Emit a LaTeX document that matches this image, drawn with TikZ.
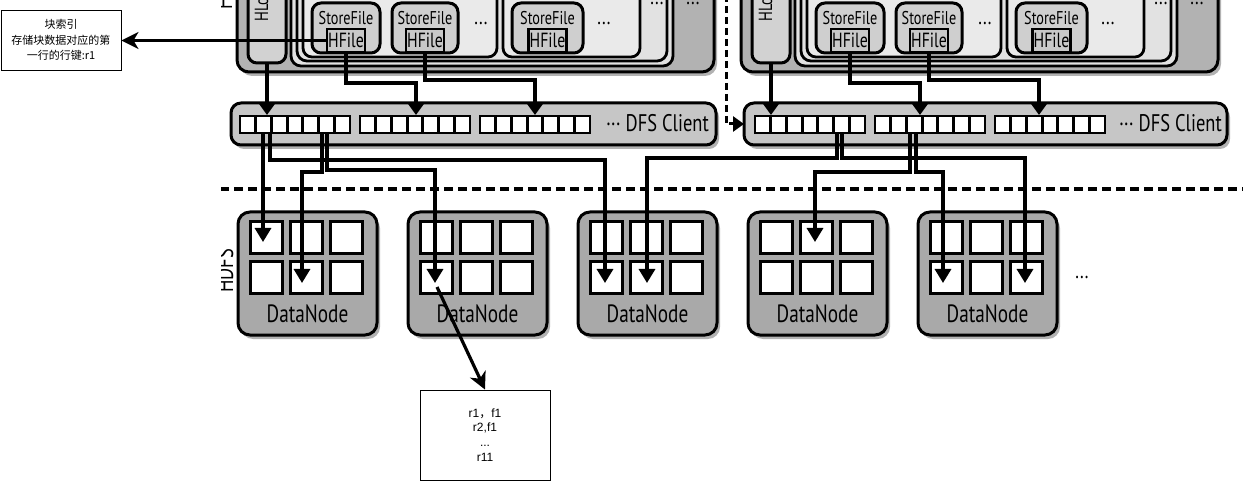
\documentclass[tikz,border=0pt]{standalone}
\usepackage{fontspec}
\newfontfamily\cf{PT Sans}[FakeStretch=0.77]
\newfontfamily\cjk{Noto Sans CJK SC}
\newfontfamily\arialf{Liberation Sans}
\usetikzlibrary{arrows.meta,shadows,calc}
\definecolor{rsg}{HTML}{B2B2B2}
\definecolor{lg}{HTML}{E2E2E2}
\definecolor{sg}{HTML}{EAEAEA}
\definecolor{sfg}{HTML}{CFCFCF}
\definecolor{hfg}{HTML}{C9C9C9}
\definecolor{dfsg}{HTML}{C6C6C6}
\definecolor{dng}{HTML}{A9A9A9}
\definecolor{hlg}{HTML}{D2D2D2}
\newcommand\mybox[7]{\node[#1,minimum width={(#5)-(#3)},minimum height={(#6)-(#4)}] (#2) at ({((#3)+(#5))/2},{((#4)+(#6))/2}) {#7};}
\tikzset{
  base/.style={draw=black, line width=3pt, inner sep=0pt, outer sep=0pt},
  shad/.style={drop shadow={shadow xshift=3pt, shadow yshift=-4pt, opacity=0.3, fill=black}},
  rsbox/.style={base, rounded corners=12pt, fill=rsg, shad},
  regbox/.style={base, line width=2.8pt, rounded corners=10pt, fill=lg},
  storebox/.style={base, line width=2.8pt, rounded corners=9pt, fill=sg},
  hlogbox/.style={base, rounded corners=9pt, fill=hlg},
  sfbox/.style={base, rounded corners=9pt, fill=sfg},
  hfbox/.style={base, line width=2.4pt, fill=hfg, font=\cf\fontsize{20.5}{20.5}\selectfont},
  dfsbox/.style={base, rounded corners=10pt, fill=dfsg, shad},
  cellbox/.style={base, line width=2.8pt, fill=white, minimum width=15.714pt, minimum height=17pt},
  dnbox/.style={base, rounded corners=12pt, fill=dng, shad},
  sq/.style={base, fill=white, minimum width=32pt, minimum height=32pt},
  conn/.style={line width=3.2pt, draw=black},
  tipdn/.style={-{Triangle[length=14pt,width=16pt]}},
  tipdfs/.style={-{Triangle[length=11pt,width=15pt]}},
  lbl/.style={font=\cf\fontsize{24}{24}\selectfont, inner sep=0pt},
  sflbl/.style={font=\cf\fontsize{18.5}{18.5}\selectfont, inner sep=0pt},
  dotlbl/.style={font=\cf\fontsize{22}{22}\selectfont, inner sep=0pt},
  note/.style={draw=black, line width=0.9pt, fill=white, inner sep=0pt},
  bigarrow/.style={line width=3.2pt, -{Stealth[length=17pt,width=17pt,inset=5pt]}},
}
\begin{document}
\begin{tikzpicture}[x=1pt,y=-1pt]
\useasboundingbox (0,0) rectangle (1243,481);
\fill[white] (0,0) rectangle (1243,481);
\begin{scope}
\clip (221,0) rectangle (1243,481);
\node[lbl, rotate=90, anchor=base west] (hrslbl) at (232,10) {HRegionServer};
\node[lbl, rotate=90, anchor=base] (hdfslbl) at (233,271) {HDFS};
\foreach \o/\s in {0/L,504/R}{
  \mybox{rsbox}{hrs\s}{237+\o}{-40}{714+\o}{72}{}
  \mybox{hlogbox}{hlog\s}{248+\o}{-30}{286+\o}{63}{}
  \node[rotate=90, anchor=base west, font=\cf\fontsize{19}{19}\selectfont, inner sep=0pt] (hlt\s) at (268+\o,22) {HLog};
  \mybox{regbox}{hregA\s}{291+\o}{-30}{673+\o}{66}{}
  \mybox{regbox}{hregB\s}{297+\o}{-25}{667+\o}{61}{}
  \mybox{storebox}{stA\s}{303+\o}{-20}{497+\o}{57}{}
  \mybox{storebox}{stB\s}{503+\o}{-20}{640+\o}{57}{}
  \mybox{sfbox}{sfA\s}{312+\o}{3}{380+\o}{53}{}
  \mybox{sfbox}{sfB\s}{392+\o}{3}{458+\o}{53}{}
  \mybox{sfbox}{sfC\s}{512+\o}{3}{583+\o}{53}{}
  \node[sflbl, anchor=base] (sftA\s) at (346+\o,25) {StoreFile};
  \node[sflbl, anchor=base] (sftB\s) at (425+\o,25) {StoreFile};
  \node[sflbl, anchor=base] (sftC\s) at (547.5+\o,25) {StoreFile};
  \mybox{hfbox}{hfA\s}{327+\o}{29}{365+\o}{52}{HFile}
  \mybox{hfbox}{hfB\s}{406+\o}{29}{444+\o}{52}{HFile}
  \mybox{hfbox}{hfC\s}{528.5+\o}{29}{566.5+\o}{52}{HFile}
  \node[dotlbl, anchor=base] (dA\s) at (481+\o,25) {...};
  \node[dotlbl, anchor=base] (dB\s) at (604+\o,25) {...};
  \node[dotlbl, anchor=base] (dC\s) at (657+\o,5) {...};
  \node[dotlbl, anchor=base] (dD\s) at (693+\o,5) {...};
}
\mybox{dfsbox}{dfsL}{231}{103}{716}{145}{}
\mybox{dfsbox}{dfsR}{744}{103}{1227}{145}{}
\foreach \g/\n in {240/a,360/b,480/c,755/d,875/e,995/f}{
  \foreach \k in {0,...,6}{
    \node[cellbox] (cell\n\k) at (\g+7.857+15.714*\k,124.5) {};
  }
}
\node[lbl, anchor=base east] (dfstL) at (709,132) {··· DFS Client};
\node[lbl, anchor=base east] (dfstR) at (1222,132) {··· DFS Client};
% region servers to DFS clients
\foreach \s in {L,R}{
  \draw[conn,tipdfs] (hlog\s.south) -- ++(0,52);
  \draw[conn,tipdfs] (hfA\s.south) |- ++(70,31) -- ++(0,32);
  \draw[conn,tipdfs] (hfB\s.south) |- ++(110,28) -- ++(0,35);
}
% dashed arrow into right DFS client
\coordinate (dv) at (726,-5);
\draw[line width=3pt, dash pattern=on 7pt off 4pt, -{Triangle[length=11pt,width=15pt]}] (dv) |- (dfsR.west);
% HDFS separator
\coordinate (hd1) at (220,189);
\coordinate (hd2) at (1245,189);
\draw[line width=3.2pt, dash pattern=on 9pt off 5pt] (hd1) -- (hd2);
% data nodes
\foreach \i/\x in {1/238,2/408,3/578,4/748,5/918}{
  \mybox{dnbox}{dn\i}{\x}{212}{\x+139}{335}{}
  \foreach \c in {0,1,2}{
    \foreach \r in {0,1}{
      \node[sq] (sq\i\c\r) at (\x+28+40*\c,238+40*\r) {};
    }
  }
  \node[font=\cf\fontsize{25}{25}\selectfont, inner sep=0pt, anchor=base] (dnl\i) at (\x+69.5,323) {DataNode};
}
\node[dotlbl, anchor=base] (dnmore) at (1082,279) {...};
% DFS client to data nodes
\coordinate (p1) at (263,133); \coordinate (q1) at (263,242);
\coordinate (p2) at (270,133); \coordinate (m2) at (605,160); \coordinate (q2) at (605,283);
\coordinate (p3) at (322,133); \coordinate (m3) at (302,172); \coordinate (q3) at (302,283);
\coordinate (p4) at (327,133); \coordinate (m4) at (435,170); \coordinate (q4) at (435,283);
\coordinate (p5) at (837,133); \coordinate (m5) at (647,158); \coordinate (q5) at (647,283);
\coordinate (p6) at (842,133); \coordinate (m6) at (1025,158); \coordinate (q6) at (1025,283);
\coordinate (p7) at (910,133); \coordinate (m7) at (815,172); \coordinate (q7) at (815,242);
\coordinate (p8) at (916,133); \coordinate (m8) at (943,172); \coordinate (q8) at (943,283);
\draw[conn,tipdn] (p1) -- (q1);
\foreach \j in {2,...,8}{
  \draw[conn,tipdn] (p\j) |- (m\j) -- (q\j);
}
\end{scope}
% notes
\node[note, minimum width=120pt, minimum height=60pt, align=center, font=\cjk\fontsize{11}{15.5}\selectfont] (note1) at (61,40) {块索引\\存储块数据对应的第\\一行的行键:r1};
\node[note, minimum width=130pt, minimum height=90pt, align=center, font=\arialf\fontsize{12}{14.7}\selectfont] (note2) at (485,435) {r1{\cjk ，}f1\\r2,f1\\...\\r11};
\draw[bigarrow] (hfAL.west) -- (hfAL.west -| note1.east);
\coordinate (dnA) at (437,287);
\draw[bigarrow] (dnA) -- (note2.north);
\end{tikzpicture}
\end{document}
